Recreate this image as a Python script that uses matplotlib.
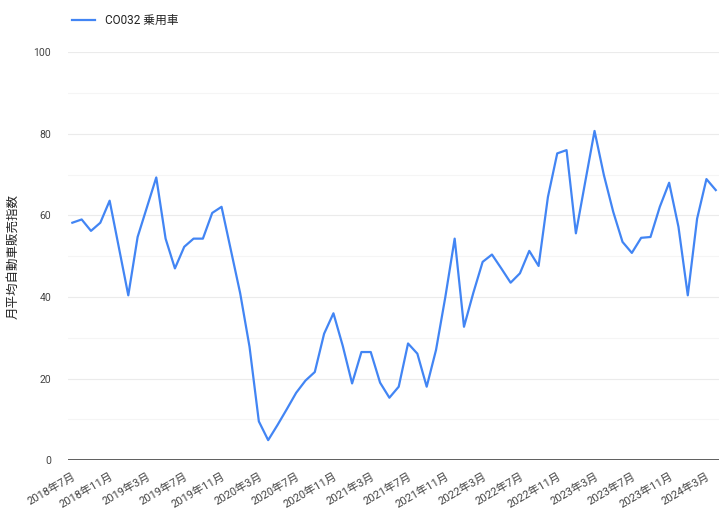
import matplotlib
matplotlib.use("Agg")
import matplotlib.pyplot as plt
import numpy as np

plt.rcParams['font.family'] = ['Roboto', 'Noto Sans CJK JP', 'DejaVu Sans']

# monthly values, 2018年7月 .. 2024年4月
values = [
    58.2, 59.0, 56.2, 58.2, 63.6, 52.0, 40.4, 54.7, 62.0, 69.3,
    54.3, 47.0, 52.3, 54.3, 54.3, 60.6, 62.1, 51.5, 40.9, 27.8,
    9.5, 4.9, 8.6, 12.5, 16.5, 19.5, 21.6, 31.0, 36.0, 28.0,
    18.8, 26.5, 26.5, 19.0, 15.3, 18.0, 28.6, 26.1, 18.0, 27.0,
    40.0, 54.3, 32.7, 41.0, 48.6, 50.4, 47.0, 43.5, 45.8, 51.3,
    47.6, 64.5, 75.2, 76.0, 55.6, 68.2, 80.7, 69.9, 60.9, 53.5,
    50.8, 54.5, 54.7, 62.1, 68.0, 57.2, 40.4, 59.2, 68.9, 66.2,
]
tick_labels = [
    "2018年7月", "2018年11月", "2019年3月", "2019年7月", "2019年11月",
    "2020年3月", "2020年7月", "2020年11月", "2021年3月", "2021年7月",
    "2021年11月", "2022年3月", "2022年7月", "2022年11月", "2023年3月",
    "2023年7月", "2023年11月", "2024年3月",
]
series_name = "CO032 乗用車"
y_label = "月平均自動車販売指数"

x = np.arange(len(values))

fig = plt.figure(figsize=(7.2, 5.17), dpi=100)
ax = fig.add_axes([0.094, 0.110, 0.904, 0.789])

ax.plot(x, values, color='#4285f4', lw=1.6, label=series_name, zorder=3)

ax.set_xlim(-0.5, 69.3)
ax.set_ylim(0, 100)
ax.set_yticks(np.arange(0, 101, 20))
ax.set_yticks(np.arange(10, 100, 20), minor=True)
ax.grid(axis='y', which='major', color='#ebebeb', lw=0.8)
ax.grid(axis='y', which='minor', color='#f5f5f5', lw=0.8)
ax.axhline(0, color='#444444', lw=1.2, zorder=4)

ax.set_xticks(x[::4])
ax.set_xticklabels(tick_labels, rotation=30, ha='right', rotation_mode='anchor')
ax.tick_params(axis='x', length=0, pad=8, labelsize=8, labelcolor='#444444')
ax.tick_params(axis='y', which='both', length=0, pad=12, labelsize=7.5, labelcolor='#444444')

for s in ax.spines.values():
    s.set_visible(False)

ax.set_ylabel(y_label, fontsize=9, color='#222222', labelpad=10)

ax.legend(loc='lower left', bbox_to_anchor=(-0.01, 1.035), frameon=False,
          fontsize=8.5, handlelength=2.0, handletextpad=0.8, labelcolor='#222222')

fig.savefig("out.png", dpi=100)
